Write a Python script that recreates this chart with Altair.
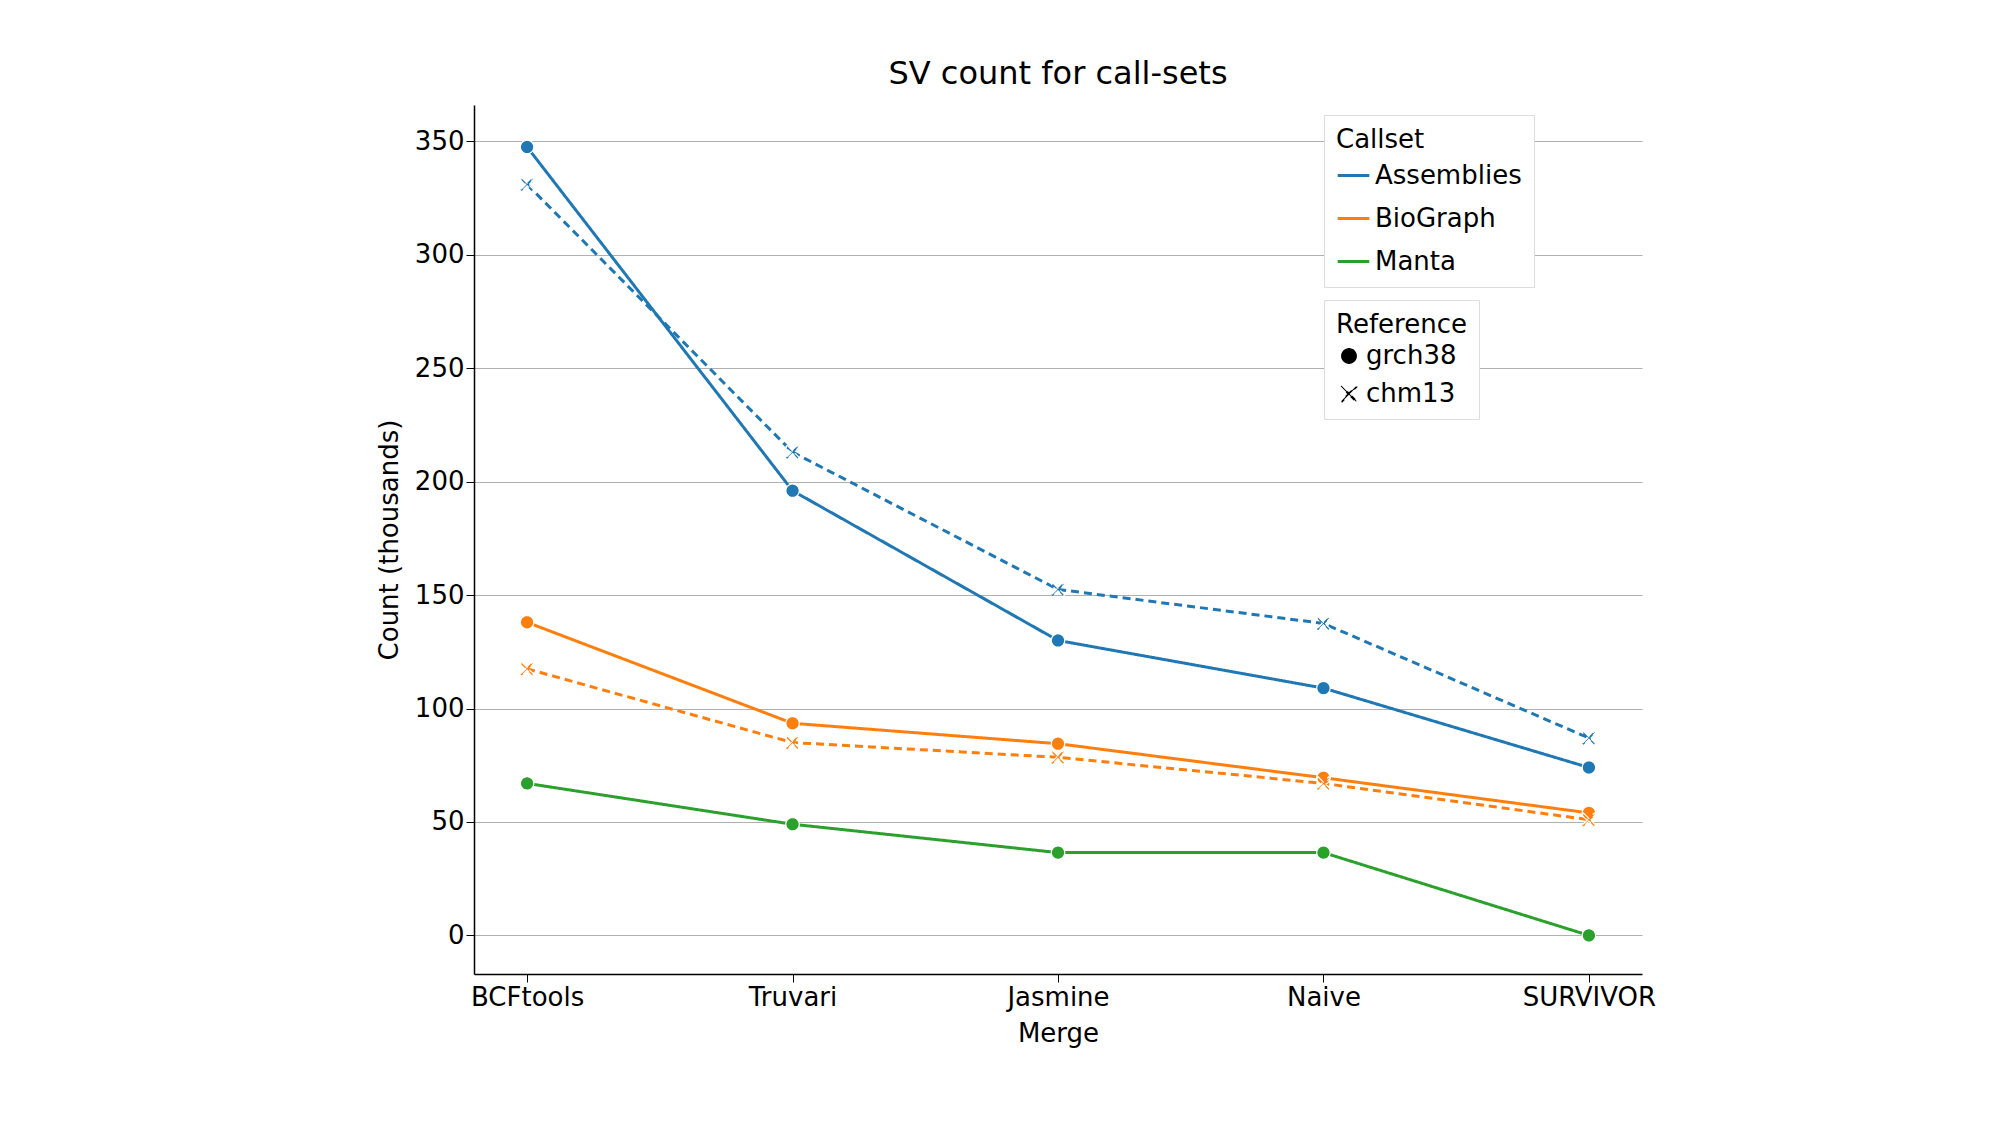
import altair as alt
import pandas as pd

merges = ["BCFtools", "Truvari", "Jasmine", "Naive", "SURVIVOR"]
assemblies_grch38 = [347.5, 196, 130, 109, 74]
assemblies_chm13 = [331, 213, 152.5, 137.5, 87]
biograph_grch38 = [138, 93.5, 84.5, 69.5, 54]
biograph_chm13 = [117.5, 85, 78.5, 67, 51]
manta_grch38 = [67, 49, 36.5, 36.5, 0]

series = [
    ("Assemblies", "grch38", assemblies_grch38),
    ("Assemblies", "chm13", assemblies_chm13),
    ("BioGraph", "grch38", biograph_grch38),
    ("BioGraph", "chm13", biograph_chm13),
    ("Manta", "grch38", manta_grch38),
]
rows = []
for callset, ref, vals in series:
    for m, v in zip(merges, vals):
        rows.append({"Merge": m, "Count": v, "Callset": callset, "Reference": ref})
df = pd.DataFrame(rows)

font = "DejaVu Sans"
x_shape = "M-0.8,-1L0,-0.2L0.8,-1L1,-0.8L0.2,0L1,0.8L0.8,1L0,0.2L-0.8,1L-1,0.8L-0.2,0L-1,-0.8Z"

x = alt.X("Merge:N", sort=merges, title="Merge",
          scale=alt.Scale(type="point", padding=0.2),
          axis=alt.Axis(labelAngle=0, grid=False, tickSize=8, titlePadding=10))
y = alt.Y("Count:Q", title="Count (thousands)",
          scale=alt.Scale(domain=[-17, 366], nice=False, zero=False),
          axis=alt.Axis(values=[0, 50, 100, 150, 200, 250, 300, 350], grid=True,
                        gridColor="#b0b0b0", tickSize=8, titlePadding=12))
color = alt.Color("Callset:N", scale=alt.Scale(domain=["Assemblies", "BioGraph", "Manta"],
                  range=["#1f77b4", "#ff7f0e", "#2ca02c"]),
                  legend=alt.Legend(orient="none", legendX=850, legendY=10, symbolType="stroke",
                                    symbolStrokeWidth=3, symbolSize=1000, rowPadding=12))
dash = alt.StrokeDash("Reference:N", scale=alt.Scale(domain=["grch38", "chm13"], range=[[1, 0], [8, 5]]),
                      legend=alt.Legend(orient="none", legendX=850, legendY=195, symbolSize=300,
                                        rowPadding=12))
shape = alt.Shape("Reference:N", scale=alt.Scale(domain=["grch38", "chm13"], range=["circle", x_shape]))

lines = alt.Chart(df).mark_line(strokeWidth=3).encode(
    x=x, y=y, color=color, strokeDash=dash, detail="Reference:N")
points = alt.Chart(df).mark_point(filled=True, size=180, stroke="white", strokeWidth=1.2, opacity=1).encode(
    x=x, y=y, color=color, shape=shape, strokeDash=dash)

chart = alt.layer(lines, points).properties(
    width=1168, height=869,
    title=alt.Title("SV count for call-sets", fontSize=32, font=font, fontWeight="normal", offset=14),
).configure_view(stroke=None).configure_axis(
    labelFont=font, titleFont=font, labelFontSize=26, titleFontSize=26,
    titleFontWeight="normal", labelColor="black", titleColor="black",
    domainColor="black", tickColor="black", domainWidth=1.5,
).configure_legend(
    labelFont=font, titleFont=font, labelFontSize=26, titleFontSize=26,
    titleFontWeight="normal", fillColor="white", strokeColor="#dddddd", padding=12,
).properties(padding={"left": 368, "top": 50, "right": 20, "bottom": 20})

chart.save("out.html", embed_options={"renderer": "svg", "actions": False})
